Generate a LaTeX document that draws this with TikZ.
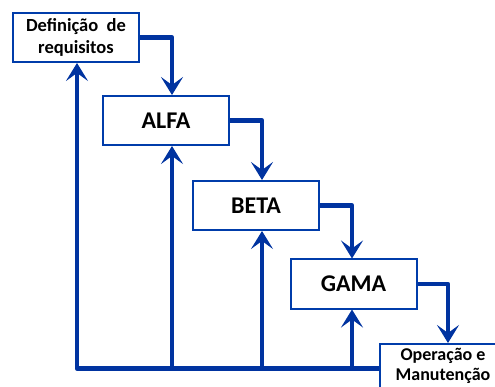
\documentclass[tikz,border=0pt]{standalone}
\usepackage{fontspec}
\setmainfont{Carlito}
\usepackage{xcolor}
\usetikzlibrary{positioning,calc,arrows.meta}
\definecolor{flowblue}{RGB}{0,51,160}
\definecolor{boxblue}{RGB}{0,60,170}
\tikzset{
    phase/.style={draw=boxblue, line width=2pt, fill=white, minimum width=126pt, minimum height=49pt, inner sep=0pt, font=\bfseries\fontsize{24}{26}\selectfont, align=center},
    smallphase/.style={phase, font=\bfseries\fontsize{18.5}{21.5}\selectfont},
    flow/.style={draw=flowblue, line width=4.5pt, line join=round, -{Stealth[length=18pt,width=22pt,inset=8pt]}}
}
\begin{document}
\begin{tikzpicture}[x=1pt,y=-1pt]
    \useasboundingbox (0,0) rectangle (495,387);

    % phases
    \node[smallphase] (req) at (76,37.5) {Defini\c{c}\~ao \ de\\requisitos};
    \node[phase] (alfa) at (166,120.5) {ALFA};
    \node[phase] (beta) at (256,205.5) {BETA};
    \node[phase] (gama) at (353.5,284) {GAMA};
    \node[smallphase, font=\bfseries\fontsize{18}{20}\selectfont, text depth=8pt] (op) at (443,368.5) {Opera\c{c}\~ao e\\Manuten\c{c}\~ao};

    % forward flow
    \draw[flow] (req.east) -| ([xshift=6pt]alfa.north);
    \draw[flow] (alfa.east) -| ([xshift=6pt]beta.north);
    \draw[flow] (beta.east) -| ([xshift=-1.5pt]gama.north);
    \draw[flow] (gama.east) -| ([xshift=5pt]op.north);

    % feedback
    \draw[flow] (op.west) -| ([xshift=1pt]req.south);
    \foreach \n/\dx in {alfa/6, beta/6, gama/-1.5}
        \draw[flow] ([xshift=\dx pt]\n.south |- op.west) -- ([xshift=\dx pt]\n.south);
\end{tikzpicture}
\end{document}
